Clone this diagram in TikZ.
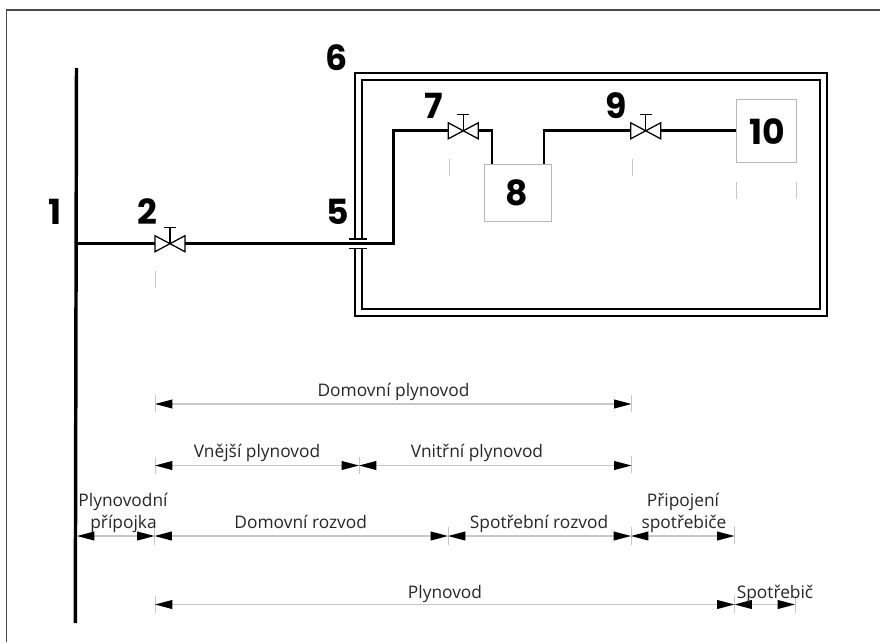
\documentclass[tikz,border=0pt]{standalone}
\usepackage{fontspec}
\setmainfont{Open Sans}
\newfontfamily\numfont{Poppins}
\usetikzlibrary{arrows.meta}
\definecolor{dimc}{gray}{0.78}
\tikzset{
  x=0.75pt,y=-0.75pt,
  pipe/.style={line width=2.2pt,black,line join=miter},
  wall/.style={line width=1.5pt,black,line join=miter},
  thinline/.style={line width=0.95pt,black},
  dimtick/.style={line width=0.7pt,dimc},
  dimarrow/.style={line width=0.9pt,dimc,{Triangle[black,length=13pt,width=6.6pt]}-{Triangle[black,length=13pt,width=6.6pt]}},
  num/.style={font=\numfont\bfseries\fontsize{26}{26}\selectfont,text=black,inner sep=0pt,anchor=base},
  lab/.style={font=\fontsize{13}{15}\selectfont,text=black!85,inner sep=0pt,anchor=base},
  appl/.style={draw=black!28,line width=0.7pt,fill=white,inner sep=0pt},
  valvenode/.style={inner sep=0pt,minimum width=22.5pt,minimum height=12pt}
}
\newcommand{\drawvalve}[1]{%
  \draw[thinline,fill=white,shift={(#1)}] (-15,-8) -- (15,8) -- (15,-8) -- (-15,8) -- cycle;
  \draw[thinline,shift={(#1)}] (0,0) -- (0,-16) (-6,-16) -- (6,-16);
}
\newcommand{\tick}[3]{\draw[dimtick] (#1,#2) -- (#1,#3);}
\begin{document}
\begin{tikzpicture}
\useasboundingbox (0,0) rectangle (880,642);
% sheet frame (top and left edges only)
\draw[line width=0.9pt,black!70] (6.5,642) -- (6.5,10) -- (880,10);
% main
\coordinate (mT) at (76.5,68);
\coordinate (mB) at (75.3,623);
\coordinate (mJ) at (76,243.7);
\draw[line width=2.6pt,black] (mT) -- (mB);
% building
\coordinate (o1) at (354.5,239);
\coordinate (o2) at (826.5,315.5);
\coordinate (o3) at (354.5,248.5);
\coordinate (i1) at (361.5,239);
\coordinate (i2) at (820,309.3);
\coordinate (i3) at (361.5,248.5);
\draw[wall] (o1) -- (354.5,73.3) -- (826.5,73.3) -- (o2) -- (354.5,315.5) -- (o3);
\draw[wall] (i1) -- (361.5,80) -- (820,80) -- (i2) -- (361.5,309.3) -- (i3);
\draw[line width=1.1pt] (349,239) -- (367,239) (349,248.5) -- (367,248.5);
% appliance boxes
\node[appl,minimum width=49.9pt,minimum height=42.8pt] (b8) at (517.8,192.5) {};
\node[appl,minimum width=45.4pt,minimum height=46.9pt] (b10) at (766.3,131.2) {};
% valves
\node[valvenode] (v2) at (170,243.7) {};
\node[valvenode] (v7) at (463.3,130.8) {};
\node[valvenode] (v9) at (645.7,130.8) {};
% pipes
\draw[pipe] (mJ) -- (v2.west);
\draw[pipe] (v2.east) -- (393.3,243.7) -- (393.3,130.8) -- (v7.west);
\draw[pipe] (v7.east) -- (492,130.8) -- (492,164);
\draw[pipe] (544,164) -- (544,130.8) -- (v9.west);
\draw[pipe] (v9.east) -- (b10.west |- v9.east);
\drawvalve{v2}\drawvalve{v7}\drawvalve{v9}
% numbers
\node[num] (n1) at (55,224) {1};
\node[num] (n2) at (147.5,224) {2};
\node[num] (n5) at (338,224) {5};
\node[num] (n6) at (337,70) {6};
\node[num] (n7) at (434,118) {7};
\node[num] (n9) at (616,118) {9};
\node[num] (n8) at (517,205) {8};
\node[num] (n10) at (767,144) {10};
% loose extension ticks
\tick{155}{271}{288}
\tick{449}{159}{176}
\tick{632}{159}{176}
\tick{736}{182}{199}
\tick{796}{182}{199}
% dimension anchors
\coordinate (a1) at (155,404);   \coordinate (a2) at (631.5,404);
\coordinate (c1) at (155,465.5); \coordinate (c2) at (359,465.5); \coordinate (c3) at (631.5,465.5);
\coordinate (d0) at (77,536);    \coordinate (d1) at (154.5,536); \coordinate (d2) at (448,536);
\coordinate (d3) at (631,536);   \coordinate (d4) at (734.5,536);
\coordinate (e1) at (155,604.5); \coordinate (e2) at (734.5,604.5); \coordinate (e3) at (795,604.5);
\tick{155}{395}{412}\tick{631.5}{395}{412}
\tick{155}{457}{474}\tick{359}{457}{474}\tick{631.5}{456}{473}
\tick{154.5}{527}{545}\tick{448}{527}{545}\tick{631}{527}{545}\tick{734.5}{526}{544}
\tick{155}{596}{613}\tick{734.5}{596}{613}\tick{795}{596}{613}
\draw[dimarrow] (a1) -- (a2);
\draw[dimarrow] (c1) -- (c2);
\draw[dimarrow] (c2) -- (c3);
\draw[dimarrow] (d0) -- (d1);
\draw[dimarrow] (d1) -- (d2);
\draw[dimarrow] (d2) -- (d3);
\draw[dimarrow] (d3) -- (d4);
\draw[dimarrow] (e1) -- (e2);
\draw[dimarrow] (e2) -- (e3);
% labels
\node[lab] (t1) at (393.5,396) {Domovní plynovod};
\node[lab] (t2) at (257,457) {Vnější plynovod};
\node[lab] (t3) at (477,457) {Vnitřní plynovod};
\node[lab] (t4) at (123,506) {Plynovodní};
\node[lab] (t5) at (123.5,528) {přípojka};
\node[lab] (t6) at (300.7,528) {Domovní rozvod};
\node[lab] (t7) at (539,528) {Spotřební rozvod};
\node[lab] (t8) at (683,506) {Připojení};
\node[lab] (t9) at (684,528) {spotřebiče};
\node[lab] (t10) at (445,598) {Plynovod};
\node[lab] (t11) at (775,598) {Spotřebič};
\end{tikzpicture}
\end{document}
